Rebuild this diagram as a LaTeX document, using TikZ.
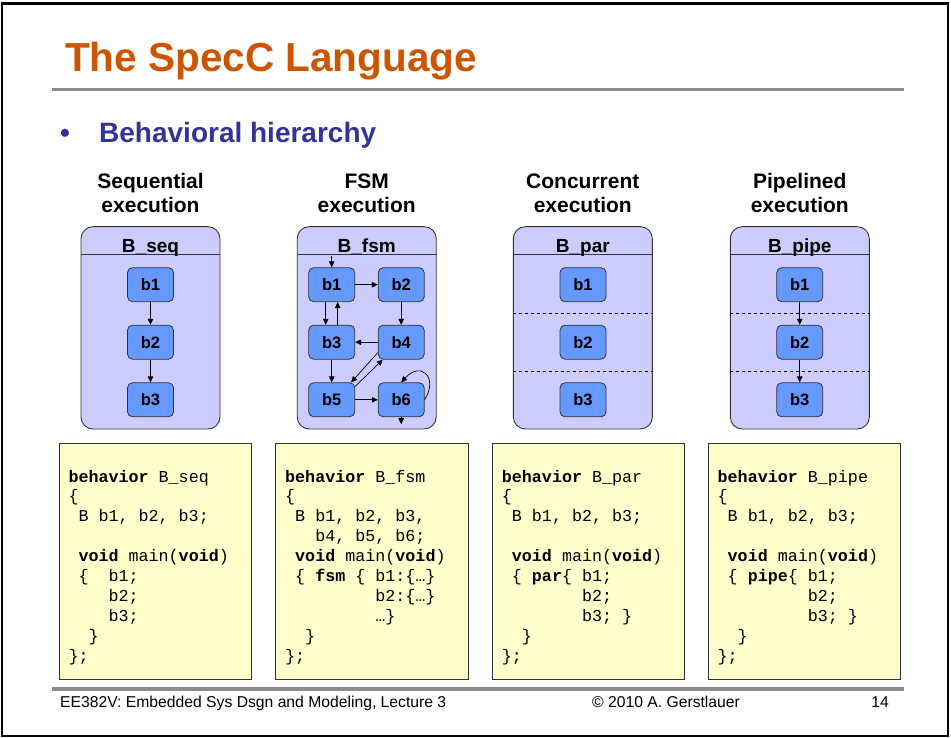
\documentclass[tikz,border=0pt]{standalone}
\usepackage{fontspec}
\setmainfont{Liberation Sans}
\newfontfamily\codefont{Liberation Mono}
\usetikzlibrary{arrows.meta,calc}

\definecolor{titleorange}{RGB}{204,85,0}
\definecolor{bulletblue}{RGB}{51,51,153}
\definecolor{lavender}{RGB}{204,204,255}
\definecolor{blockblue}{RGB}{102,153,255}
\definecolor{codeyellow}{RGB}{255,255,204}
\definecolor{rulegray}{RGB}{140,140,140}
\definecolor{edgegray}{RGB}{51,51,51}

\newcommand\setfs[1]{\fontsize{#1}{#1}\selectfont}

\tikzset{
  behbox/.style={draw=edgegray, line width=0.9pt, fill=lavender, rounded corners=12pt,
    minimum width=139pt, minimum height=202.3pt, inner sep=0pt},
  blk/.style={draw=edgegray, line width=0.8pt, fill=blockblue, rounded corners=5pt,
    minimum width=46pt, minimum height=34pt, inner sep=0pt, font=\setfs{16.5}\bfseries},
  arr/.style={draw=black, line width=0.7pt, -{Triangle[length=6pt,width=5.5pt]}},
  sepline/.style={draw=black, line width=0.7pt, dash pattern=on 3.5pt off 2.5pt},
  hdrline/.style={draw=edgegray, line width=0.9pt},
  hdr/.style={font=\setfs{19}\bfseries, anchor=base, inner sep=0pt},
  heading/.style={font=\setfs{21}\bfseries, anchor=base, inner sep=0pt},
  codebox/.style={draw=edgegray, line width=0.9pt, fill=codeyellow,
    minimum width=192.4pt, minimum height=236pt, inner sep=0pt},
  code/.style={font=\codefont\fontsize{16.7}{19.9}\selectfont, anchor=base west, inner sep=0pt},
  rule/.style={draw=rulegray, line width=3.5pt},
  foot/.style={font=\setfs{15.7}, inner sep=0pt},
}

\begin{document}
\begin{tikzpicture}[x=1pt,y=-1pt]
\useasboundingbox (0,0) rectangle (951,738);

% slide frame, title and rules
\draw[line width=2.5pt] (1.8,3.6) rectangle (948.2,735.8);
\node[anchor=base west, inner sep=0pt, font=\setfs{40.5}\bfseries, text=titleorange]
  (title) at (65,72) {The SpecC Language};
\draw[rule] (52,89.3) -- (904,89.3);
\node[anchor=base west, inner sep=0pt, font=\setfs{28}\bfseries, text=bulletblue]
  (bullet) at (60,143) {•};
\node[anchor=base west, inner sep=0pt, font=\setfs{28}\bfseries, text=bulletblue]
  (topic) at (99,143) {Behavioral hierarchy};

% column headings
\node[heading] (h1a) at (150.5,188.3) {Sequential};
\node[heading] (h1b) at (150.5,212.7) {execution};
\node[heading] (h2a) at (366.7,188.3) {FSM};
\node[heading] (h2b) at (366.7,212.7) {execution};
\node[heading] (h3a) at (582.8,188.3) {Concurrent};
\node[heading] (h3b) at (582.8,212.7) {execution};
\node[heading] (h4a) at (799.8,188.3) {Pipelined};
\node[heading] (h4b) at (799.8,212.7) {execution};

% ---- sequential behavior
\node[behbox] (seq) at (150.5,327.85) {};
\draw[hdrline] ([yshift=-28.3pt]seq.north west) -- ([yshift=-28.3pt]seq.north east);
\node[hdr] (seqname) at (150.5,253) {B\_seq};
\node[blk] (sb1) at (150.5,284.7) {b1};
\node[blk] (sb2) at (150.5,342.2) {b2};
\node[blk] (sb3) at (150.5,399.8) {b3};
\draw[arr] (sb1) -- (sb2);
\draw[arr] (sb2) -- (sb3);

% ---- FSM behavior
\node[behbox] (fsm) at (366.7,327.85) {};
\draw[hdrline] ([yshift=-28.3pt]fsm.north west) -- ([yshift=-28.3pt]fsm.north east);
\node[hdr] (fsmname) at (366.7,253) {B\_fsm};
\node[blk] (fb1) at (331.7,284.7) {b1};
\node[blk] (fb2) at (401.2,284.7) {b2};
\node[blk] (fb3) at (331.7,342.2) {b3};
\node[blk] (fb4) at (401.2,342.2) {b4};
\node[blk] (fb5) at (331.7,399.8) {b5};
\node[blk] (fb6) at (401.2,399.8) {b6};
\draw[arr] ([yshift=11pt]fb1.north) -- (fb1.north);
\draw[arr] (fb1.east) -- (fb2.west);
\draw[arr] ([xshift=-6pt]fb1.south) -- ([xshift=-6pt]fb3.north);
\draw[arr] ([xshift=6pt]fb3.north) -- ([xshift=6pt]fb1.south);
\draw[arr] (fb2.south) -- (fb4.north);
\draw[arr] (fb4.west) -- (fb3.east);
\draw[arr] (fb3.south) -- (fb5.north);
\draw[arr] ([yshift=7pt]fb4.south west) -- ([xshift=-4pt]fb5.north east);
\draw[arr] ([yshift=-4pt]fb5.north east) -- ([xshift=5pt]fb4.south west);
\draw[arr] (fb5.east) -- (fb6.west);
\draw[arr] (fb6.east) .. controls +(14,-22) and +(20,-22) .. (fb6.north);
\draw[arr] (fb6.south) -- ([yshift=-7pt]fb6.south);

% ---- concurrent behavior
\node[behbox] (par) at (582.8,327.85) {};
\draw[hdrline] ([yshift=-28.3pt]par.north west) -- ([yshift=-28.3pt]par.north east);
\node[hdr] (parname) at (582.8,253) {B\_par};
\node[blk] (pb1) at (583,284.7) {b1};
\node[blk] (pb2) at (583,342.2) {b2};
\node[blk] (pb3) at (583,399.8) {b3};
\coordinate (pm1) at ($(pb1.south)!.5!(pb2.north)$);
\coordinate (pm2) at ($(pb2.south)!.5!(pb3.north)$);
\draw[sepline] (par.west |- pm1) -- (par.east |- pm1);
\draw[sepline] (par.west |- pm2) -- (par.east |- pm2);

% ---- pipelined behavior
\node[behbox] (pipe) at (799.8,327.85) {};
\draw[hdrline] ([yshift=-28.3pt]pipe.north west) -- ([yshift=-28.3pt]pipe.north east);
\node[hdr] (pipename) at (799.8,253) {B\_pipe};
\node[blk] (qb1) at (799.7,284.7) {b1};
\node[blk] (qb2) at (799.7,342.2) {b2};
\node[blk] (qb3) at (799.7,399.8) {b3};
\coordinate (qm1) at ($(qb1.south)!.5!(qb2.north)$);
\coordinate (qm2) at ($(qb2.south)!.5!(qb3.north)$);
\draw[sepline] (pipe.west |- qm1) -- (pipe.east |- qm1);
\draw[sepline] (pipe.west |- qm2) -- (pipe.east |- qm2);
\draw[arr] (qb1) -- (qb2);
\draw[arr] (qb2) -- (qb3);

% ---- SpecC code listings
\node[codebox] (cseq) at (155.5,561.3) {};
\node[codebox] (cfsm) at (372,561.3) {};
\node[codebox] (cpar) at (588.3,561.3) {};
\node[codebox] (cpipe) at (804.7,561.3) {};

\node[code] (tseq) at (68.3,482) {\begin{tabular}[t]{@{}l@{}}
\textbf{behavior} B\_seq\\
\{\\
~B b1, b2, b3;\\
\\
~\textbf{void} main(\textbf{void})\\
~\{~~b1;\\
~~~~b2;\\
~~~~b3;\\
~~\}\\
\};
\end{tabular}};

\node[code] (tfsm) at (285,482) {\begin{tabular}[t]{@{}l@{}}
\textbf{behavior} B\_fsm\\
\{\\
~B b1, b2, b3,\\
~~~b4, b5, b6;\\
~\textbf{void} main(\textbf{void})\\
~\{ \textbf{fsm} \{ b1:\{…\}\\
~~~~~~~~~b2:\{…\}\\
~~~~~~~~~…\}\\
~~\}\\
\};
\end{tabular}};

\node[code] (tpar) at (501.7,482) {\begin{tabular}[t]{@{}l@{}}
\textbf{behavior} B\_par\\
\{\\
~B b1, b2, b3;\\
\\
~\textbf{void} main(\textbf{void})\\
~\{ \textbf{par}\{ b1;\\
~~~~~~~~b2;\\
~~~~~~~~b3; \}\\
~~\}\\
\};
\end{tabular}};

\node[code] (tpipe) at (717.5,482) {\begin{tabular}[t]{@{}l@{}}
\textbf{behavior} B\_pipe\\
\{\\
~B b1, b2, b3;\\
\\
~\textbf{void} main(\textbf{void})\\
~\{ \textbf{pipe}\{ b1;\\
~~~~~~~~~b2;\\
~~~~~~~~~b3; \}\\
~~\}\\
\};
\end{tabular}};

% footer
\draw[rule] (52,689) -- (904,689);
\node[foot, anchor=base west] (course) at (60,707) {EE382V: Embedded Sys Dsgn and Modeling, Lecture 3};
\node[foot, anchor=base west] (copy) at (592,707) {© 2010 A. Gerstlauer};
\node[foot, anchor=base east] (page) at (889,707) {14};
\end{tikzpicture}
\end{document}
